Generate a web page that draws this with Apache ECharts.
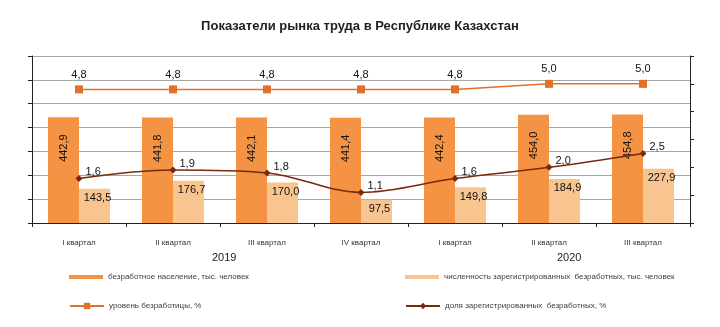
<!DOCTYPE html>
<html><head><meta charset="utf-8">
<script src="https://cdn.jsdelivr.net/npm/echarts@6/dist/echarts.min.js"></script>
<style>html,body{margin:0;padding:0;background:#fff}#c{width:720px;height:327px}</style>
</head><body><div id="c"></div>
<script>
const title = 'Показатели рынка труда в Республике Казахстан';
const categories = ['I квартал','II квартал','III квартал','IV квартал','I квартал','II квартал','III квартал'];
const years = ['2019','2020'];
const unemployed = [442.9, 441.8, 442.1, 441.4, 442.4, 454.0, 454.8];
const registered = [143.5, 176.7, 170.0, 97.5, 149.8, 184.9, 227.9];
const unempRate = [4.8, 4.8, 4.8, 4.8, 4.8, 5.0, 5.0];
const regShare = [1.6, 1.9, 1.8, 1.1, 1.6, 2.0, 2.5];
const names = ['безработное население, тыс. человек','численность зарегистрированных  безработных, тыс. человек','уровень безработицы, %','доля зарегистрированных  безработных, %'];

const fmt = v => v.toFixed(1).replace('.', ',');
const F = 'Liberation Sans';
const chart = echarts.init(document.getElementById('c'));
const legendText = {fontSize: 8, color: '#404040', fontFamily: F};
chart.setOption({
  animation: false,
  backgroundColor: '#fff',
  title: {text: title, left: 'center', top: 15, textStyle: {fontFamily: 'Liberation Sans', fontWeight: 'bold', fontSize: 13, color: '#222'}},
  grid: {left: 32, right: 30, top: 56, bottom: 104},
  legend: [
    {data: [{name: names[0], icon: 'rect'}], left: 64, top: 268, itemWidth: 34, itemHeight: 4, textStyle: legendText},
    {data: [{name: names[1], icon: 'rect'}], left: 400, top: 268, itemWidth: 34, itemHeight: 4, textStyle: legendText},
    {data: [names[2]], left: 64, top: 297, itemWidth: 34, itemHeight: 8, textStyle: legendText},
    {data: [names[3]], left: 400, top: 297, itemWidth: 34, itemHeight: 8, textStyle: legendText}
  ],
  xAxis: {type: 'category', data: categories,
    axisLine: {lineStyle: {color: '#222'}},
    axisTick: {show: true, length: 4, lineStyle: {color: '#222'}},
    axisLabel: {fontSize: 8, color: '#333', fontFamily: F, margin: 16}},
  yAxis: [
    {type: 'value', min: 0, max: 700, interval: 100,
      axisLine: {show: true, lineStyle: {color: '#222'}},
      axisTick: {show: true, length: 4, lineStyle: {color: '#222'}},
      axisLabel: {show: false},
      splitLine: {lineStyle: {color: '#a6a6a6'}}},
    {type: 'value', min: 0, max: 6, interval: 1, position: 'right',
      axisLine: {show: true, lineStyle: {color: '#222'}},
      axisTick: {show: true, length: 4, lineStyle: {color: '#222'}},
      axisLabel: {show: false},
      splitLine: {show: false}}
  ],
  graphic: [
    {type: 'text', left: 212, top: 252, style: {text: years[0], fontSize: 11, fill: '#222', fontFamily: F}},
    {type: 'text', left: 557, top: 252, style: {text: years[1], fontSize: 11, fill: '#222', fontFamily: F}}
  ],
  series: [
    {name: names[0], type: 'bar', data: unemployed, barGap: '0%', barCategoryGap: '34%',
      itemStyle: {color: '#f39343'},
      label: {show: true, position: 'insideTop', distance: 17, rotate: 90, align: 'right', verticalAlign: 'middle',
        formatter: p => fmt(p.value), fontSize: 11, color: '#111', fontFamily: F}},
    {name: names[1], type: 'bar', data: registered,
      itemStyle: {color: '#f8c48f'},
      label: {show: true, position: 'insideTop', distance: 4, offset: [3, 0],
        formatter: p => fmt(p.value), fontSize: 11, color: '#111', fontFamily: F}},
    {name: names[2], type: 'line', yAxisIndex: 1, data: unempRate,
      lineStyle: {color: '#e0702a', width: 1.5}, itemStyle: {color: '#e0702a'},
      symbol: 'rect', symbolSize: 8,
      label: {show: true, position: 'top', distance: 5, formatter: p => fmt(p.value), fontSize: 11, color: '#111', fontFamily: F}},
    {name: names[3], type: 'line', yAxisIndex: 1, data: regShare, smooth: 0.35,
      lineStyle: {color: '#7a2a0c', width: 1.5}, itemStyle: {color: '#7a2a0c'},
      symbol: 'diamond', symbolSize: 7,
      label: {show: true, position: 'right', distance: 3, offset: [0, -6], formatter: p => fmt(p.value), fontSize: 11, color: '#111', fontFamily: F}}
  ]
});
</script></body></html>
